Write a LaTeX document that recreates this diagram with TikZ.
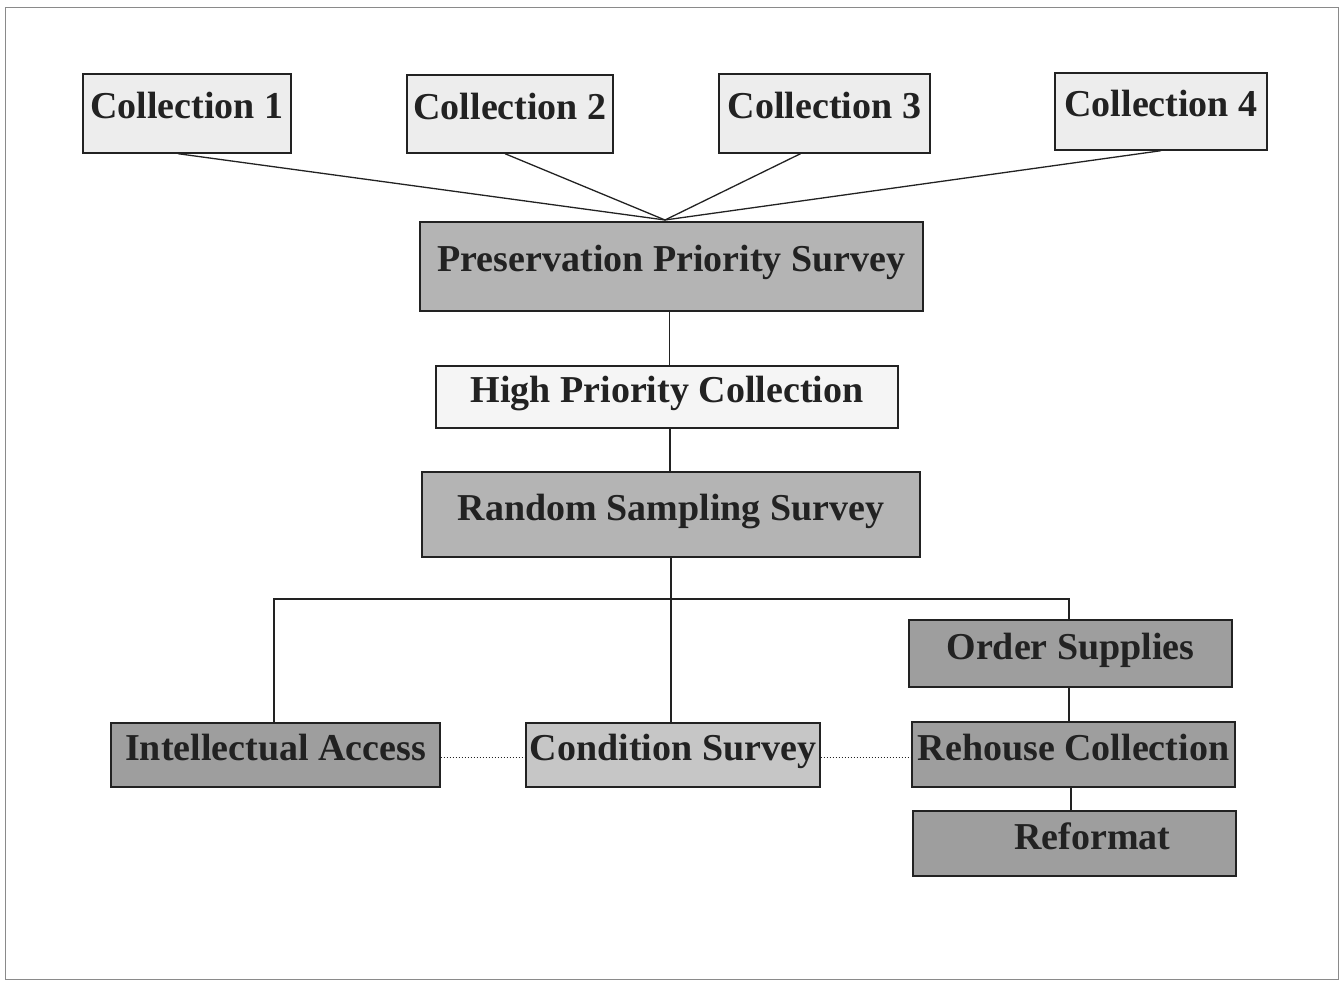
\documentclass[tikz,border=0pt]{standalone}
\usepackage{fontspec}
\setmainfont{Liberation Serif}
\definecolor{lightbox}{HTML}{EDEDED}
\definecolor{whitebox}{HTML}{F5F5F5}
\definecolor{midbox}{HTML}{B4B4B4}
\definecolor{condbox}{HTML}{C6C6C6}
\definecolor{darkbox}{HTML}{9E9E9E}
\definecolor{ink}{HTML}{222222}
\definecolor{framec}{HTML}{8A8A8A}
\begin{document}
\begin{tikzpicture}[x=1pt,y=-1pt,
  box/.style={draw=ink, line width=1.4pt, inner sep=0pt, text=ink,
    text height=28pt, text depth=17pt,
    font=\fontsize{38}{40}\selectfont\bfseries, align=center},
  conn/.style={draw=ink, line width=1.3pt},
  dotconn/.style={draw=ink, line width=1pt, dotted}]
\useasboundingbox (0,0) rectangle (1340,981);
\draw[framec, line width=0.8pt] (5,7) rectangle (1338,979);

\node[box, fill=lightbox, minimum width=208pt, minimum height=79pt] (c1) at (187,113.5) {Collection 1};
\node[box, fill=lightbox, minimum width=206pt, minimum height=78pt] (c2) at (510,114) {Collection 2};
\node[box, fill=lightbox, minimum width=211pt, minimum height=79pt] (c3) at (824.5,113.5) {Collection 3};
\node[box, fill=lightbox, minimum width=212pt, minimum height=77pt] (c4) at (1161,111.5) {Collection 4};

\node[box, fill=midbox, minimum width=503pt, minimum height=89pt] (pps) at (671.5,266.5) {Preservation Priority Survey};
\node[box, fill=whitebox, minimum width=462pt, minimum height=62pt] (hpc) at (667,397) {High Priority Collection};
\node[box, fill=midbox, minimum width=498pt, minimum height=85pt] (rss) at (671,514.5) {Random Sampling Survey};

\node[box, fill=darkbox, minimum width=329pt, minimum height=64pt] (ia) at (275.5,755) {Intellectual Access};
\node[box, fill=condbox, minimum width=294pt, minimum height=64pt] (cs) at (673,755) {Condition Survey};
\node[box, fill=darkbox, minimum width=323pt, minimum height=67pt] (os) at (1070.5,653.5) {Order Supplies};
\node[box, fill=darkbox, minimum width=323pt, minimum height=65pt] (rc) at (1073.5,754.5) {Rehouse Collection};
\node[box, fill=darkbox, minimum width=323pt, minimum height=65pt] (rf) at (1074.5,843.5) {\hspace*{36pt}Reformat};

\coordinate (top) at (665,220);
\coordinate (bus) at (672,599);

\draw[conn] (c1.south) ++(-9,0) -- (top);
\draw[conn] (c2.south) ++(-5,0) -- (top);
\draw[conn] (c3.south) ++(-24,0) -- (top);
\draw[conn] (c4.south) -- (top);

\draw[conn] (pps.south) ++(-2,0) -- (hpc.north -| 669.5,0);
\draw[conn] (hpc.south) ++(3,0) -- (rss.north -| 670,0);
\draw[conn] (rss.south) -- (cs.north -| rss.south);
\draw[conn] (ia.north -| 274,0) -- (274,599) -- (1069,599) -- (os.north -| 1069,0);
\draw[conn] (os.south -| 1069,0) -- (rc.north -| 1069,0);
\draw[conn] (rc.south -| 1071,0) -- (rf.north -| 1071,0);

\draw[dotconn] (ia.east |- 0,757) -- (cs.west |- 0,757);
\draw[dotconn] (cs.east |- 0,757) -- (rc.west |- 0,757);
\end{tikzpicture}
\end{document}
